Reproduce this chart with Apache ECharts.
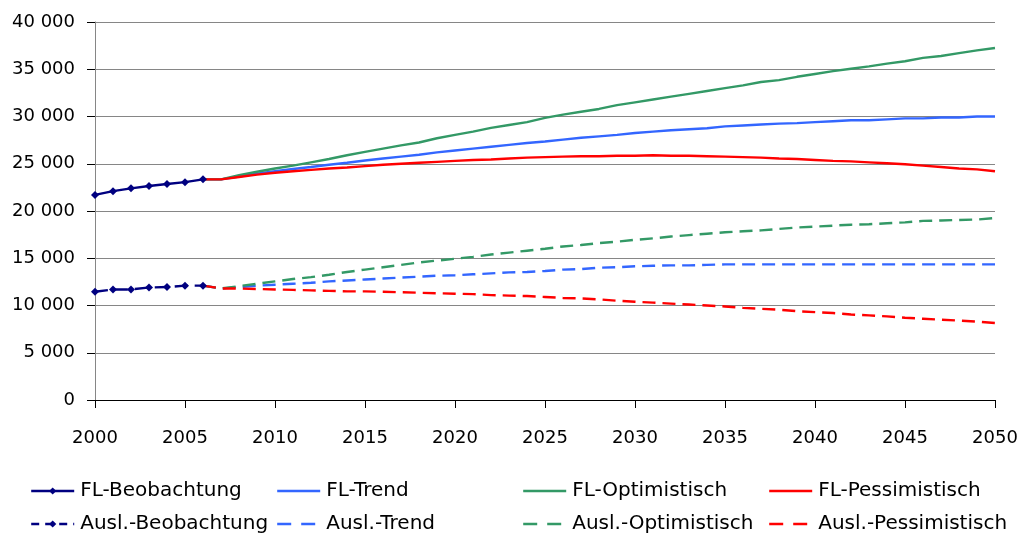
<!DOCTYPE html>
<html>
<head>
<meta charset="utf-8">
<script src="https://cdn.jsdelivr.net/npm/echarts@6/dist/echarts.min.js"></script>
<style>html,body{margin:0;padding:0;background:#fff}#c{width:1021px;height:535px}</style>
</head>
<body>
<div id="c"></div>
<script>
var obsYears = [2000, 2001, 2002, 2003, 2004, 2005, 2006];
var flObs = [21700, 22100, 22400, 22650, 22850, 23050, 23350];
var auslObs = [11450, 11700, 11700, 11900, 11950, 12100, 12100];

var projYears = [2006, 2007, 2008, 2009, 2010, 2011, 2012, 2013, 2014, 2015,
  2016, 2017, 2018, 2019, 2020, 2021, 2022, 2023, 2024, 2025,
  2026, 2027, 2028, 2029, 2030, 2031, 2032, 2033, 2034, 2035,
  2036, 2037, 2038, 2039, 2040, 2041, 2042, 2043, 2044, 2045,
  2046, 2047, 2048, 2049, 2050];

var flTrend = [23350, 23350, 23650, 23950, 24200, 24450, 24650, 24900, 25100, 25350,
  25550, 25750, 25950, 26200, 26400, 26600, 26800, 27000, 27200, 27350,
  27550, 27750, 27900, 28050, 28250, 28400, 28550, 28650, 28750, 28950,
  29050, 29150, 29250, 29300, 29400, 29500, 29600, 29600, 29700, 29800,
  29800, 29900, 29900, 30000, 30000];
var flOpt = [23350, 23350, 23800, 24150, 24500, 24800, 25150, 25500, 25900, 26250,
  26600, 26950, 27250, 27700, 28050, 28400, 28800, 29100, 29400, 29850,
  30200, 30500, 30800, 31200, 31500, 31800, 32100, 32400, 32700, 33000,
  33300, 33650, 33850, 34200, 34500, 34800, 35050, 35300, 35600, 35850,
  36200, 36400, 36700, 37000, 37250];
var flPess = [23350, 23350, 23600, 23850, 24050, 24200, 24350, 24500, 24600, 24750,
  24900, 25000, 25100, 25200, 25300, 25400, 25450, 25550, 25650, 25700,
  25750, 25800, 25800, 25850, 25850, 25900, 25850, 25850, 25800, 25750,
  25700, 25650, 25550, 25500, 25400, 25300, 25250, 25150, 25050, 24950,
  24800, 24650, 24500, 24400, 24200];
var auslTrend = [12100, 11800, 11950, 12100, 12200, 12300, 12400, 12550, 12650, 12750,
  12850, 12950, 13050, 13150, 13200, 13300, 13400, 13500, 13550, 13650,
  13800, 13850, 14000, 14050, 14150, 14200, 14250, 14250, 14300, 14350,
  14350, 14350, 14350, 14350, 14350, 14350, 14350, 14350, 14350, 14350,
  14350, 14350, 14350, 14350, 14350];
var auslOpt = [12100, 11800, 12050, 12300, 12550, 12800, 13000, 13250, 13550, 13800,
  14050, 14300, 14550, 14750, 14950, 15150, 15400, 15600, 15800, 16000,
  16250, 16400, 16600, 16750, 16950, 17100, 17300, 17450, 17600, 17750,
  17850, 17950, 18100, 18250, 18350, 18450, 18550, 18600, 18700, 18800,
  18950, 19000, 19050, 19100, 19250];
var auslPess = [12100, 11800, 11800, 11750, 11700, 11650, 11600, 11550, 11500, 11500,
  11450, 11400, 11350, 11300, 11250, 11200, 11100, 11050, 11000, 10900,
  10800, 10750, 10650, 10500, 10400, 10300, 10200, 10100, 10000, 9900,
  9750, 9650, 9550, 9400, 9300, 9200, 9050, 8950, 8850, 8700,
  8600, 8500, 8400, 8300, 8150];

var xTicks = {min: 2000, max: 2050, interval: 5};
var yTicks = {min: 0, max: 40000, interval: 5000};

function pairs(xs, ys) { return xs.map(function (x, i) { return [x, ys[i]]; }); }

var NAVY = '#000080', BLUE = '#3366ff', GREEN = '#339966', RED = '#ff0000';
var DASH = [13, 7];
var LEGEND_DASH = [14, 10];
var FONT = 'DejaVu Sans';

var seriesDefs = [
  {name: 'FL-Beobachtung', x: obsYears, y: flObs, color: NAVY, dash: false, sym: true},
  {name: 'FL-Trend', x: projYears, y: flTrend, color: BLUE, dash: false, sym: false},
  {name: 'FL-Optimistisch', x: projYears, y: flOpt, color: GREEN, dash: false, sym: false},
  {name: 'FL-Pessimistisch', x: projYears, y: flPess, color: RED, dash: false, sym: false},
  {name: 'Ausl.-Beobachtung', x: obsYears, y: auslObs, color: NAVY, dash: true, sym: true},
  {name: 'Ausl.-Trend', x: projYears, y: auslTrend, color: BLUE, dash: true, sym: false},
  {name: 'Ausl.-Optimistisch', x: projYears, y: auslOpt, color: GREEN, dash: true, sym: false},
  {name: 'Ausl.-Pessimistisch', x: projYears, y: auslPess, color: RED, dash: true, sym: false}
];

var series = seriesDefs.map(function (d) {
  return {
    name: d.name, type: 'line', data: pairs(d.x, d.y),
    symbol: d.sym ? 'diamond' : 'none', symbolSize: 8, showSymbol: d.sym,
    color: d.color,
    itemStyle: {color: d.color},
    lineStyle: {color: d.color, width: 2.4, type: d.dash ? DASH : 'solid'},
    animation: false, z: d.sym ? 5 : 3
  };
});

var colLeft = [30, 276, 522, 768];
var rowTop = [481, 514];
var legends = seriesDefs.map(function (d, i) {
  var lg = {
    data: [d.name], left: colLeft[i % 4], top: rowTop[Math.floor(i / 4)],
    itemWidth: 43, itemHeight: 9, itemGap: 0,
    textStyle: {fontFamily: FONT, fontSize: 20, color: '#000', padding: [0, 0, 0, 1]},
    padding: 0, selectedMode: false,
    lineStyle: {width: 2.4, type: d.dash ? (d.sym ? [8, 6] : LEGEND_DASH) : 'solid'}
  };
  if (!d.sym) { lg.itemStyle = {opacity: 0}; }
  return lg;
});

var chart = echarts.init(document.getElementById('c'), null, {renderer: 'canvas'});
chart.setOption({
  animation: false,
  backgroundColor: '#fff',
  grid: {left: 95, right: 26, top: 22, bottom: 135, containLabel: false},
  legend: legends,
  xAxis: {
    type: 'value', min: xTicks.min, max: xTicks.max, interval: xTicks.interval,
    axisLine: {show: true, onZero: false, lineStyle: {color: '#000', width: 1}},
    axisTick: {show: true, length: 8, inside: false, lineStyle: {color: '#000'}},
    axisLabel: {fontFamily: FONT, fontSize: 18, color: '#000', margin: 29,
      formatter: function (v) { return String(v); }},
    splitLine: {show: false}
  },
  yAxis: {
    type: 'value', min: yTicks.min, max: yTicks.max, interval: yTicks.interval,
    axisLine: {show: true, lineStyle: {color: '#868686', width: 1}},
    axisTick: {show: true, length: 8, lineStyle: {color: '#000'}},
    axisLabel: {
      fontFamily: FONT, fontSize: 18, color: '#000', margin: 20,
      formatter: function (v) { return String(v).replace(/\B(?=(\d{3})+(?!\d))/g, ' '); }
    },
    splitLine: {show: true, lineStyle: {color: '#868686', width: 1}}
  },
  series: series
});
</script>
</body>
</html>
